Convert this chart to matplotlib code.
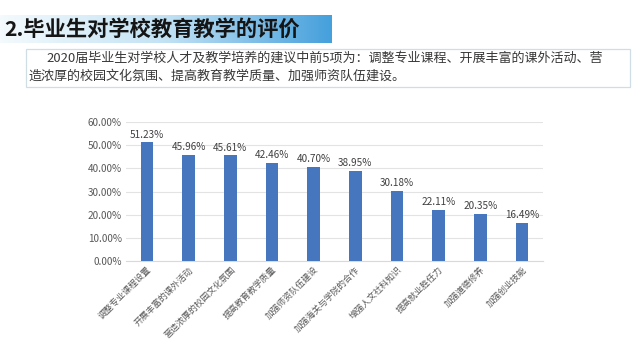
import numpy as np
import matplotlib
matplotlib.use("Agg")
import matplotlib.pyplot as plt
from matplotlib.patches import Rectangle
from matplotlib.colors import LinearSegmentedColormap

plt.rcParams['font.family'] = ['Noto Sans CJK SC', 'DejaVu Sans']

# 数据
items = ["调整专业课程设置", "开展丰富的课外活动", "营造浓厚的校园文化氛围",
         "提高教育教学质量", "加强师资队伍建设", "加强海关与学院的合作",
         "增强人文社科知识", "提高就业胜任力", "加强道德修养", "加强创业技能"]
rates = [51.23, 45.96, 45.61, 42.46, 40.70, 38.95, 30.18, 22.11, 20.35, 16.49]
yticks = [0, 10, 20, 30, 40, 50, 60]

title = "2.毕业生对学校教育教学的评价"
line1 = "2020届毕业生对学校人才及教学培养的建议中前5项为：调整专业课程、开展丰富的课外活动、营"
line2 = "造浓厚的校园文化氛围、提高教育教学质量、加强师资队伍建设。"

W, H = 640, 360
fig = plt.figure(figsize=(6.4, 3.6), dpi=100)

# 标题横幅（渐变）
ban = fig.add_axes([0, 1 - 43 / H, 332 / W, 28 / H])
cmap = LinearSegmentedColormap.from_list("ban", ["#f4fafd", "#c2e2f4", "#45a0dc"])
ban.imshow(np.linspace(0, 1, 256).reshape(1, -1), aspect="auto", cmap=cmap)
ban.axis("off")
fig.text(4 / W, 1 - 29 / H, title, fontsize=15.3, fontweight="bold",
         color="#151515", va="center", ha="left")

# 说明文字框
fig.patches.append(Rectangle((26 / W, 1 - 87 / H), 604 / W, 38 / H,
                             transform=fig.transFigure, facecolor="white",
                             edgecolor="#cfdde5", linewidth=0.9))
fig.text(46 / W, 1 - 58 / H, line1, fontsize=9.4, color="#383838", va="center")
fig.text(28 / W, 1 - 76 / H, line2, fontsize=9.4, color="#383838", va="center")

# 柱状图
ax = fig.add_axes([126 / W, 1 - 261 / H, 417 / W, 139 / H])
x = np.arange(len(items))
bars = ax.bar(x, rates, width=0.3, color="#4677BE", zorder=3)
for b, v in zip(bars, rates):
    ax.text(b.get_x() + b.get_width() / 2, v + 1.2, f"{v:.2f}%",
            ha="center", va="bottom", fontsize=7.2, color="#404040")

ax.set_xlim(-0.5, len(items) - 0.5)
ax.set_ylim(0, 60)
ax.set_yticks(yticks)
ax.set_yticklabels([f"{v:.2f}%" for v in yticks], fontsize=7.2, color="#595959")
ax.set_xticks(x)
ax.set_xticklabels(items, rotation=45, ha="right", rotation_mode="anchor",
                   fontsize=6.3, color="#595959")
ax.tick_params(axis="both", length=0, pad=3)
ax.grid(axis="y", color="#e3e3e3", linewidth=0.8, zorder=0)
for s in ["top", "right", "left"]:
    ax.spines[s].set_visible(False)
ax.spines["bottom"].set_color("#d9d9d9")

fig.savefig("out.png", dpi=100)
